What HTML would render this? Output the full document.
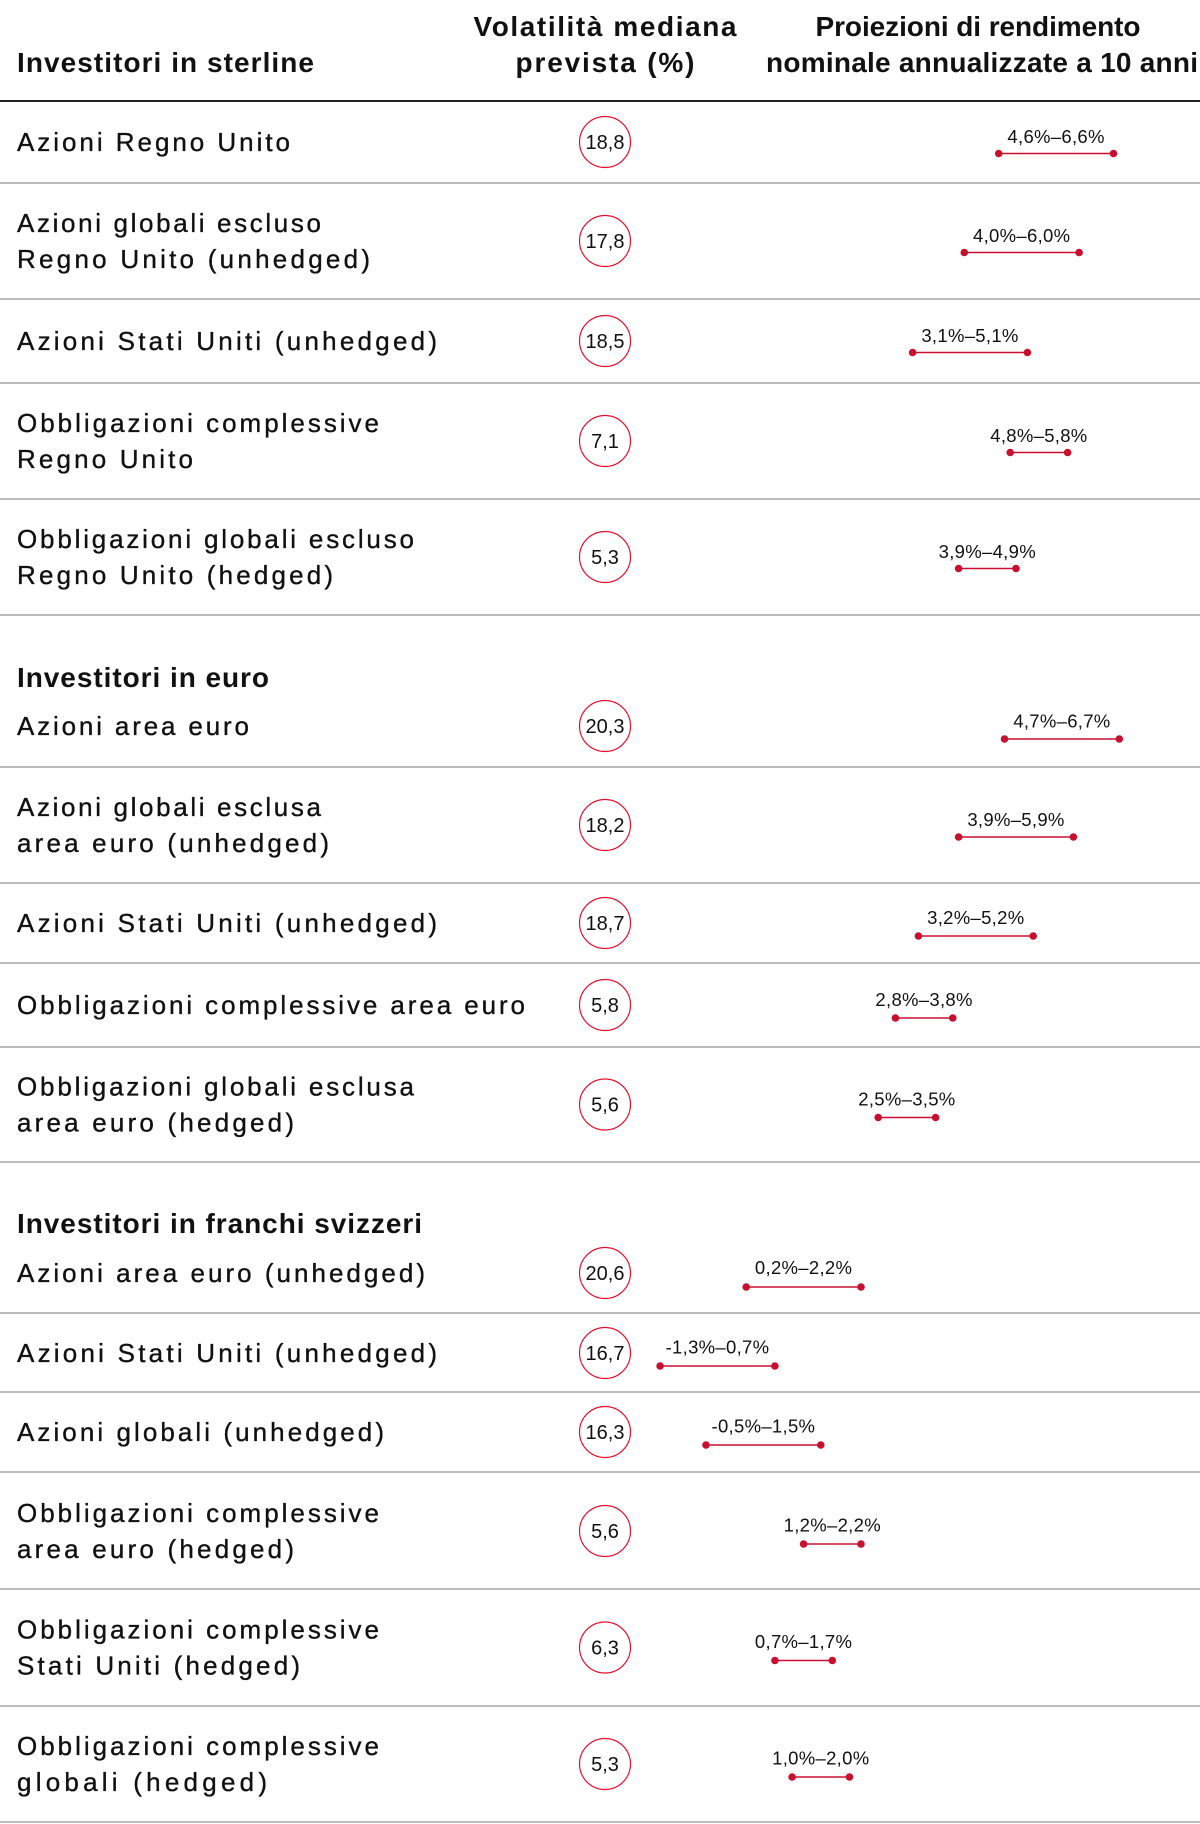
<!DOCTYPE html>
<html><head><meta charset="utf-8"><style>
html,body{margin:0;padding:0;background:#fff;}
svg{display:block;}
text{font-family:"Liberation Sans",Arial,sans-serif;fill:#111;}
.h{font-weight:bold;font-size:28px;}
.l{font-size:26px;stroke:#111;stroke-width:0.35px;}
.n{font-size:20px;text-anchor:middle;}
.r{font-size:18.5px;text-anchor:middle;letter-spacing:0.3px;}
.sep{stroke:#a6a6a6;stroke-width:1.5;}
.c{fill:none;stroke:#e8112d;stroke-width:1.2;}
.b{stroke:#c8102e;stroke-width:1.6;}
.d{fill:#c8102e;}
</style></head><body>
<svg width="1200" height="1824" viewBox="0 0 1200 1824" xmlns="http://www.w3.org/2000/svg">
<rect width="1200" height="1824" fill="#fff"/>
<!-- header -->
<text class="h" x="17" y="72" textLength="297" lengthAdjust="spacing">Investitori in sterline</text>
<text class="h" x="605" y="36" text-anchor="middle" textLength="263" lengthAdjust="spacing">Volatilità mediana</text>
<text class="h" x="605" y="72" text-anchor="middle" textLength="179" lengthAdjust="spacing">prevista (%)</text>
<text class="h" x="978" y="36" text-anchor="middle" textLength="325" lengthAdjust="spacing">Proiezioni di rendimento</text>
<text class="h" x="982" y="72" text-anchor="middle" textLength="432" lengthAdjust="spacing">nominale annualizzate a 10 anni</text>
<line x1="0" y1="101" x2="1200" y2="101" stroke="#222" stroke-width="2"/>

<!-- separators -->
<line class="sep" x1="0" y1="183" x2="1200" y2="183"/>
<line class="sep" x1="0" y1="299" x2="1200" y2="299"/>
<line class="sep" x1="0" y1="383" x2="1200" y2="383"/>
<line class="sep" x1="0" y1="499" x2="1200" y2="499"/>
<line class="sep" x1="0" y1="615" x2="1200" y2="615"/>
<line class="sep" x1="0" y1="767" x2="1200" y2="767"/>
<line class="sep" x1="0" y1="883" x2="1200" y2="883"/>
<line class="sep" x1="0" y1="963" x2="1200" y2="963"/>
<line class="sep" x1="0" y1="1047" x2="1200" y2="1047"/>
<line class="sep" x1="0" y1="1162" x2="1200" y2="1162"/>
<line class="sep" x1="0" y1="1313" x2="1200" y2="1313"/>
<line class="sep" x1="0" y1="1392" x2="1200" y2="1392"/>
<line class="sep" x1="0" y1="1472" x2="1200" y2="1472"/>
<line class="sep" x1="0" y1="1589" x2="1200" y2="1589"/>
<line class="sep" x1="0" y1="1706" x2="1200" y2="1706"/>
<line class="sep" x1="0" y1="1822" x2="1200" y2="1822"/>

<!-- section headers -->
<text class="h" x="17" y="687" textLength="252" lengthAdjust="spacing">Investitori in euro</text>
<text class="h" x="17" y="1233" textLength="405" lengthAdjust="spacing">Investitori in franchi svizzeri</text>

<!-- row labels -->
<text class="l" x="17" y="151" textLength="273" lengthAdjust="spacing">Azioni Regno Unito</text>
<text class="l" x="17" y="232" textLength="304" lengthAdjust="spacing">Azioni globali escluso</text>
<text class="l" x="17" y="268" textLength="353" lengthAdjust="spacing">Regno Unito (unhedged)</text>
<text class="l" x="17" y="350" textLength="420" lengthAdjust="spacing">Azioni Stati Uniti (unhedged)</text>
<text class="l" x="17" y="432" textLength="362" lengthAdjust="spacing">Obbligazioni complessive</text>
<text class="l" x="17" y="468" textLength="176" lengthAdjust="spacing">Regno Unito</text>
<text class="l" x="17" y="548" textLength="397" lengthAdjust="spacing">Obbligazioni globali escluso</text>
<text class="l" x="17" y="584" textLength="316" lengthAdjust="spacing">Regno Unito (hedged)</text>
<text class="l" x="17" y="735" textLength="232" lengthAdjust="spacing">Azioni area euro</text>
<text class="l" x="17" y="816" textLength="304" lengthAdjust="spacing">Azioni globali esclusa</text>
<text class="l" x="17" y="852" textLength="312" lengthAdjust="spacing">area euro (unhedged)</text>
<text class="l" x="17" y="932" textLength="420" lengthAdjust="spacing">Azioni Stati Uniti (unhedged)</text>
<text class="l" x="17" y="1014" textLength="508" lengthAdjust="spacing">Obbligazioni complessive area euro</text>
<text class="l" x="17" y="1095.5" textLength="397" lengthAdjust="spacing">Obbligazioni globali esclusa</text>
<text class="l" x="17" y="1131.5" textLength="277" lengthAdjust="spacing">area euro (hedged)</text>
<text class="l" x="17" y="1282" textLength="408" lengthAdjust="spacing">Azioni area euro (unhedged)</text>
<text class="l" x="17" y="1362" textLength="420" lengthAdjust="spacing">Azioni Stati Uniti (unhedged)</text>
<text class="l" x="17" y="1441" textLength="367" lengthAdjust="spacing">Azioni globali (unhedged)</text>
<text class="l" x="17" y="1522" textLength="362" lengthAdjust="spacing">Obbligazioni complessive</text>
<text class="l" x="17" y="1558" textLength="277" lengthAdjust="spacing">area euro (hedged)</text>
<text class="l" x="17" y="1638.5" textLength="362" lengthAdjust="spacing">Obbligazioni complessive</text>
<text class="l" x="17" y="1674.5" textLength="283" lengthAdjust="spacing">Stati Uniti (hedged)</text>
<text class="l" x="17" y="1755" textLength="362" lengthAdjust="spacing">Obbligazioni complessive</text>
<text class="l" x="17" y="1791" textLength="250" lengthAdjust="spacing">globali (hedged)</text>

<!-- volatility circles -->
<g>
<circle class="c" cx="605" cy="142" r="25.5"/><text class="n" x="605" y="149">18,8</text>
<circle class="c" cx="605" cy="241" r="25.5"/><text class="n" x="605" y="248">17,8</text>
<circle class="c" cx="605" cy="341" r="25.5"/><text class="n" x="605" y="348">18,5</text>
<circle class="c" cx="605" cy="441" r="25.5"/><text class="n" x="605" y="448">7,1</text>
<circle class="c" cx="605" cy="557" r="25.5"/><text class="n" x="605" y="564">5,3</text>
<circle class="c" cx="605" cy="726" r="25.5"/><text class="n" x="605" y="733">20,3</text>
<circle class="c" cx="605" cy="825" r="25.5"/><text class="n" x="605" y="832">18,2</text>
<circle class="c" cx="605" cy="923" r="25.5"/><text class="n" x="605" y="930">18,7</text>
<circle class="c" cx="605" cy="1005" r="25.5"/><text class="n" x="605" y="1012">5,8</text>
<circle class="c" cx="605" cy="1104.5" r="25.5"/><text class="n" x="605" y="1111.5">5,6</text>
<circle class="c" cx="605" cy="1273" r="25.5"/><text class="n" x="605" y="1280">20,6</text>
<circle class="c" cx="605" cy="1353" r="25.5"/><text class="n" x="605" y="1360">16,7</text>
<circle class="c" cx="605" cy="1432" r="25.5"/><text class="n" x="605" y="1439">16,3</text>
<circle class="c" cx="605" cy="1531" r="25.5"/><text class="n" x="605" y="1538">5,6</text>
<circle class="c" cx="605" cy="1647.5" r="25.5"/><text class="n" x="605" y="1654.5">6,3</text>
<circle class="c" cx="605" cy="1764" r="25.5"/><text class="n" x="605" y="1771">5,3</text>
</g>

<!-- ranges -->
<g>
<text class="r" x="1056.1" y="143">4,6%–6,6%</text>
<line class="b" x1="998.7" y1="153.5" x2="1113.5" y2="153.5"/><circle class="d" cx="998.7" cy="153.5" r="3.8"/><circle class="d" cx="1113.5" cy="153.5" r="3.8"/>

<text class="r" x="1021.7" y="242">4,0%–6,0%</text>
<line class="b" x1="964.3" y1="252.5" x2="1079.1" y2="252.5"/><circle class="d" cx="964.3" cy="252.5" r="3.8"/><circle class="d" cx="1079.1" cy="252.5" r="3.8"/>

<text class="r" x="970" y="342">3,1%–5,1%</text>
<line class="b" x1="912.6" y1="352.5" x2="1027.4" y2="352.5"/><circle class="d" cx="912.6" cy="352.5" r="3.8"/><circle class="d" cx="1027.4" cy="352.5" r="3.8"/>

<text class="r" x="1038.9" y="442">4,8%–5,8%</text>
<line class="b" x1="1010.2" y1="452.5" x2="1067.6" y2="452.5"/><circle class="d" cx="1010.2" cy="452.5" r="3.8"/><circle class="d" cx="1067.6" cy="452.5" r="3.8"/>

<text class="r" x="987.3" y="558">3,9%–4,9%</text>
<line class="b" x1="958.6" y1="568.5" x2="1016" y2="568.5"/><circle class="d" cx="958.6" cy="568.5" r="3.8"/><circle class="d" cx="1016" cy="568.5" r="3.8"/>

<text class="r" x="1061.9" y="727.5">4,7%–6,7%</text>
<line class="b" x1="1004.5" y1="739" x2="1119.3" y2="739"/><circle class="d" cx="1004.5" cy="739" r="3.8"/><circle class="d" cx="1119.3" cy="739" r="3.8"/>

<text class="r" x="1016" y="826">3,9%–5,9%</text>
<line class="b" x1="958.6" y1="837" x2="1073.4" y2="837"/><circle class="d" cx="958.6" cy="837" r="3.8"/><circle class="d" cx="1073.4" cy="837" r="3.8"/>

<text class="r" x="975.8" y="924">3,2%–5,2%</text>
<line class="b" x1="918.4" y1="936" x2="1033.2" y2="936"/><circle class="d" cx="918.4" cy="936" r="3.8"/><circle class="d" cx="1033.2" cy="936" r="3.8"/>

<text class="r" x="924.1" y="1006">2,8%–3,8%</text>
<line class="b" x1="895.4" y1="1018" x2="952.8" y2="1018"/><circle class="d" cx="895.4" cy="1018" r="3.8"/><circle class="d" cx="952.8" cy="1018" r="3.8"/>

<text class="r" x="906.9" y="1105.5">2,5%–3,5%</text>
<line class="b" x1="878.2" y1="1117.5" x2="935.6" y2="1117.5"/><circle class="d" cx="878.2" cy="1117.5" r="3.8"/><circle class="d" cx="935.6" cy="1117.5" r="3.8"/>

<text class="r" x="803.6" y="1274">0,2%–2,2%</text>
<line class="b" x1="746.2" y1="1287" x2="861" y2="1287"/><circle class="d" cx="746.2" cy="1287" r="3.8"/><circle class="d" cx="861" cy="1287" r="3.8"/>

<text class="r" x="717.5" y="1353.5">-1,3%–0,7%</text>
<line class="b" x1="660.1" y1="1366" x2="774.9" y2="1366"/><circle class="d" cx="660.1" cy="1366" r="3.8"/><circle class="d" cx="774.9" cy="1366" r="3.8"/>

<text class="r" x="763.4" y="1432.5">-0,5%–1,5%</text>
<line class="b" x1="706" y1="1445" x2="820.8" y2="1445"/><circle class="d" cx="706" cy="1445" r="3.8"/><circle class="d" cx="820.8" cy="1445" r="3.8"/>

<text class="r" x="832.3" y="1531.5">1,2%–2,2%</text>
<line class="b" x1="803.6" y1="1544" x2="861" y2="1544"/><circle class="d" cx="803.6" cy="1544" r="3.8"/><circle class="d" cx="861" cy="1544" r="3.8"/>

<text class="r" x="803.6" y="1648">0,7%–1,7%</text>
<line class="b" x1="774.9" y1="1660.5" x2="832.3" y2="1660.5"/><circle class="d" cx="774.9" cy="1660.5" r="3.8"/><circle class="d" cx="832.3" cy="1660.5" r="3.8"/>

<text class="r" x="820.8" y="1764.5">1,0%–2,0%</text>
<line class="b" x1="792.1" y1="1777" x2="849.5" y2="1777"/><circle class="d" cx="792.1" cy="1777" r="3.8"/><circle class="d" cx="849.5" cy="1777" r="3.8"/>
</g>
</svg>
</body></html>
